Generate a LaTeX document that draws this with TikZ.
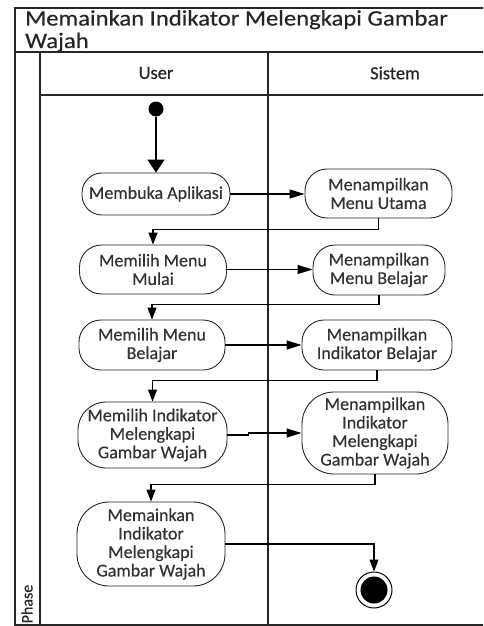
\documentclass[tikz,border=0pt]{standalone}
\usepackage{fontspec}
\setmainfont{Carlito}[FakeBold=0.5]
\newfontfamily\titlefont{Carlito}[FakeBold=0.5,FakeStretch=1.12]
\usetikzlibrary{arrows.meta}
\begin{document}
\begin{tikzpicture}[x=1pt,y=-1pt,
  act/.style={draw=black!85, line width=0.9pt, align=center, inner sep=0pt,
    font=\fontsize{18}{18.5}\selectfont, text=black!80},
  flow/.style={draw=black, line width=1.1pt, -{Triangle[length=12pt,width=9pt]}},
  hflow/.style={draw=black, line width=1.1pt, -{Triangle[length=15pt,width=9pt]}},
  frame/.style={draw=black!85, line width=1.2pt}]
\useasboundingbox (0,0) rectangle (483,626);
\clip (0,0) rectangle (483,626);
% frame
\draw[frame] (500,8) -- (15,8) -- (15,625) -- (500,625);
\draw[frame] (15,52) -- (500,52);
\draw[frame] (40,52) -- (40,625);
\draw[frame] (40,95) -- (500,95);
\draw[frame] (268,52) -- (268,625);
% titles
\node[anchor=base west, inner sep=0pt, align=left, text=black!85,
  font=\titlefont\fontsize{22}{22.5}\selectfont] (title) at (25,48)
  {Memainkan Indikator Melengkapi Gambar\\Wajah};
\node[font=\fontsize{18.5}{20}\selectfont, text=black!85] (user) at (156,73) {User};
\node[font=\fontsize{18.5}{20}\selectfont, text=black!85] (sistem) at (395,73) {Sistem};
\node[rotate=90, font=\fontsize{16}{17}\selectfont, text=black!85] (phase) at (27,604) {Phase};
% nodes
\node[circle, fill=black, minimum size=15pt, inner sep=0pt] (start) at (156,109) {};
\node[act, minimum width=148pt, minimum height=42pt, rounded corners=20pt] (a1) at (156,194) {Membuka Aplikasi};
\node[act, minimum width=147pt, minimum height=49pt, rounded corners=22pt] (s1) at (378.5,193.5) {Menampilkan\\Menu Utama};
\node[act, minimum width=147pt, minimum height=49pt, rounded corners=22pt] (a2) at (153,269.5) {Memilih Menu\\Mulai};
\node[act, minimum width=132pt, minimum height=50pt, rounded corners=22pt] (s2) at (379,270) {Menampilkan\\Menu Belajar};
\node[act, minimum width=146pt, minimum height=50pt, rounded corners=22pt] (a3) at (152,345) {Memilih Menu\\Belajar};
\node[act, minimum width=150pt, minimum height=50pt, rounded corners=22pt] (s3) at (377,345) {Menampilkan\\Indikator Belajar};
\node[act, minimum width=149pt, minimum height=66pt, rounded corners=28pt] (a4) at (152.5,435) {Memilih Indikator\\Melengkapi\\Gambar Wajah};
\node[act, minimum width=146pt, minimum height=82pt, rounded corners=32pt] (s4) at (375,433) {Menampilkan\\Indikator\\Melengkapi\\Gambar Wajah};
\node[act, minimum width=148pt, minimum height=84pt, rounded corners=32pt] (a5) at (151,544) {Memainkan\\Indikator\\Melengkapi\\Gambar Wajah};
\node[circle, draw=black, line width=1pt, minimum size=36pt, inner sep=0pt] (end) at (374,590) {};
\node[circle, fill=black, minimum size=27pt, inner sep=0pt] (endin) at (374,590) {};
% connectors
\draw[draw=black, line width=1.2pt, -{Triangle[length=13pt,width=17pt]}] (start) -- (a1.north);
\draw[hflow] (a1.east) -- (s1.west |- a1.east);
\draw[flow] (s1.south) -- ++(0,11) -| (a2.north);
\draw[hflow] (a2.east) -- (s2.west |- a2.east);
\draw[flow] (s2.south) -- ++(0,9) -| (a3.north);
\draw[hflow] (a3.east) -- (s3.west |- a3.east);
\draw[flow] (s3.south) -- ++(0,10) -| (a4.north);
\draw[hflow] (a4.east) -- ++(21,0) |- (s4.west);
\draw[flow] (s4.south) -- ++(0,10) -| (a5.north);
\draw[flow] (a5.east) -| (end.north);
\end{tikzpicture}
\end{document}
